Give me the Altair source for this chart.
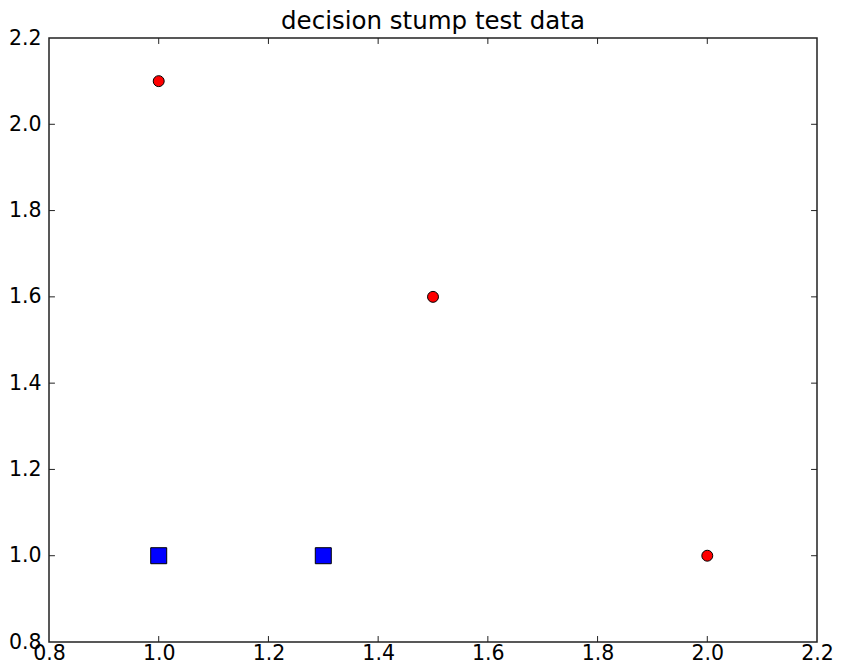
import altair as alt
import pandas as pd

# data
circle_x = [1.0, 1.5, 2.0]
circle_y = [2.1, 1.6, 1.0]
square_x = [1.0, 1.3]
square_y = [1.0, 1.0]
tick_values = [0.8, 1.0, 1.2, 1.4, 1.6, 1.8, 2.0, 2.2]
inner_ticks = [1.0, 1.2, 1.4, 1.6, 1.8, 2.0]
title_text = "decision stump test data"

FONT = "DejaVu Sans"

circles = pd.DataFrame({"x": circle_x, "y": circle_y})
squares = pd.DataFrame({"x": square_x, "y": square_y})
ticks = pd.DataFrame({"v": inner_ticks})

xscale = alt.Scale(domain=[0.8, 2.2], nice=False, zero=False)
yscale = alt.Scale(domain=[0.8, 2.2], nice=False, zero=False)
xaxis = alt.Axis(values=tick_values, format=".1f", title=None, labelPadding=17,
                 labelBaseline="alphabetic")
yaxis = alt.Axis(values=tick_values, format=".1f", title=None, labelPadding=8)

pts_c = alt.Chart(circles).mark_point(
    shape="circle", filled=True, color="#ff0000", stroke="black", strokeWidth=1, size=120, opacity=1
).encode(
    x=alt.X("x:Q", scale=xscale, axis=xaxis),
    y=alt.Y("y:Q", scale=yscale, axis=yaxis),
)

pts_s = alt.Chart(squares).mark_point(
    shape="square", filled=True, color="#0000ff", stroke="black", strokeWidth=1, size=256, opacity=1
).encode(
    x=alt.X("x:Q", scale=xscale, axis=xaxis),
    y=alt.Y("y:Q", scale=yscale, axis=yaxis),
)

rule_style = dict(color="#222222", strokeWidth=1)

# inward tick marks along the four sides of the frame
base = alt.Chart(ticks)
t_b = base.mark_rule(**rule_style).encode(
    x=alt.X("v:Q", scale=xscale, axis=xaxis),
    y=alt.Y("lo:Q", scale=yscale, axis=yaxis),
    y2="lo2:Q",
).transform_calculate(lo="0.8", lo2="0.8 + 0.0138")
t_t = base.mark_rule(**rule_style).encode(
    x=alt.X("v:Q", scale=xscale, axis=xaxis),
    y=alt.Y("hi:Q", scale=yscale, axis=yaxis),
    y2="hi2:Q",
).transform_calculate(hi="2.2", hi2="2.2 - 0.0138")
t_l = base.mark_rule(**rule_style).encode(
    y=alt.Y("v:Q", scale=yscale, axis=yaxis),
    x=alt.X("lo:Q", scale=xscale, axis=xaxis),
    x2="lo2:Q",
).transform_calculate(lo="0.8", lo2="0.8 + 0.0108")
t_r = base.mark_rule(**rule_style).encode(
    y=alt.Y("v:Q", scale=yscale, axis=yaxis),
    x=alt.X("hi:Q", scale=xscale, axis=xaxis),
    x2="hi2:Q",
).transform_calculate(hi="2.2", hi2="2.2 - 0.0108")

chart = alt.layer(t_b, t_t, t_l, t_r, pts_c, pts_s).properties(
    width=826,
    height=656,
    title=alt.TitleParams(
        title_text, font=FONT, fontSize=24.5, fontWeight="normal", color="black",
        anchor="middle", offset=-6, frame="group"
    ),
    autosize=alt.AutoSizeParams(type="fit", contains="padding"),
    padding=0,
).configure_view(
    stroke="#222222", strokeWidth=1.5
).configure_axis(
    grid=False, ticks=False, domain=False, labelFont=FONT, labelFontSize=20.5,
    labelColor="black", labelFlush=False, labelOverlap=False
)

chart.save("out.html", embed_options={"renderer": "svg", "actions": False})
